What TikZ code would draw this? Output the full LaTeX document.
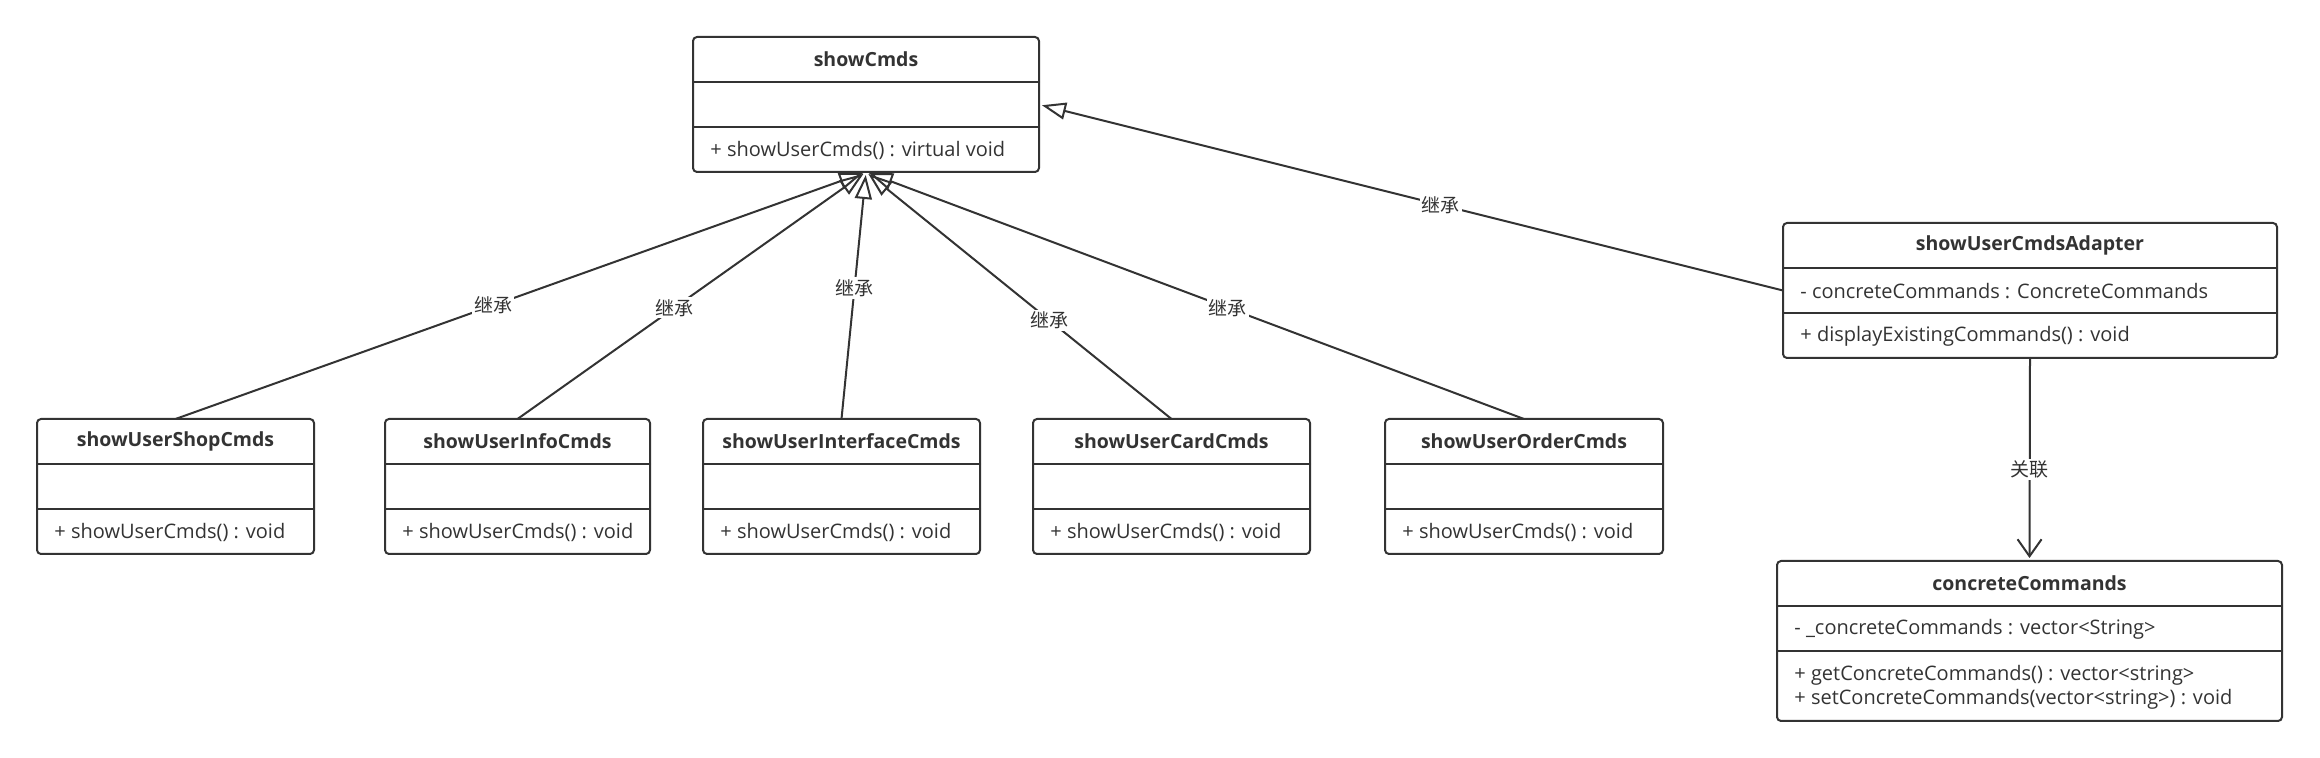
\documentclass[tikz,border=0pt]{standalone}
\usepackage{fontspec}
\setmainfont{Open Sans}
\newfontfamily\cjk{Noto Sans CJK SC}
\usetikzlibrary{calc,arrows.meta}

\definecolor{linec}{HTML}{333333}

\tikzset{
	classbox/.style={draw=linec, line width=1pt, rounded corners=2pt, inner sep=0pt, outer sep=0pt, anchor=north west},
	divider/.style={draw=linec, line width=1pt},
	clstitle/.style={font=\bfseries\fontsize{9.75}{11}\selectfont, text=linec, inner sep=0pt},
	clstext/.style={font=\fontsize{10}{12}\selectfont, text=linec, anchor=west, align=left, inner xsep=8.5pt, inner ysep=0pt},
	extends/.style={draw=linec, line width=1pt, -{Triangle[open, length=12pt, width=8.5pt, line width=1pt]}, shorten >=1.5pt},
	assoc/.style={draw=linec, line width=1pt, -{Straight Barb[length=8.5pt, width=12pt, line width=1pt]}, shorten >=1.5pt},
	lbl/.style={fill=white, inner sep=1pt, text=linec, font=\cjk\fontsize{9.5}{11}\selectfont}
}

% #1 method part height, #2 name, #3 north west corner, #4 width (px), #5 title, #6 attribute, #7 methods
\newcommand{\umlclass}[7][22.5pt]{%
	\node[classbox, minimum width=#4*0.5pt, minimum height=45pt+#1] (#2) at (#3) {};
	\node[clstitle] (#2-title) at ($(#2.north)+(0,-11.25pt)$) {#5};
	\draw[divider] ($(#2.north west)+(0,-22.5pt)$) -- ($(#2.north east)+(0,-22.5pt)$);
	\draw[divider] ($(#2.north west)+(0,-45pt)$) -- ($(#2.north east)+(0,-45pt)$);
	\coordinate (#2-aw) at ($(#2.north west)+(0,-33.75pt)$);
	\coordinate (#2-ae) at ($(#2.north east)+(0,-33.75pt)$);
	\if\relax\detokenize{#6}\relax\else
		\node[clstext] (#2-attr) at ($(#2-aw)+(0,-0.5pt)$) {#6};
	\fi
	\node[clstext] (#2-ops) at ($(#2.north west)+(0,-45.5pt-0.5*#1)$) {#7};
}

\begin{document}
\begin{tikzpicture}[x=0.5pt, y=-0.5pt, line cap=round]
	\useasboundingbox (0,0) rectangle (2320,758);

	% Classes
	\umlclass{showCmds}{693,37}{346}{showCmds}{}{+ showUserCmds() : virtual void}
	%
	\umlclass{shop}{37,419}{277}{showUserShopCmds}{}{+ showUserCmds() : void}
	\umlclass{info}{385,419}{265}{showUserInfoCmds}{}{+ showUserCmds() : void}
	\umlclass{iface}{703,419}{277}{showUserInterfaceCmds}{}{+ showUserCmds() : void}
	\umlclass{card}{1033,419}{277}{showUserCardCmds}{}{+ showUserCmds() : void}
	\umlclass{order}{1385,419}{278}{showUserOrderCmds}{}{+ showUserCmds() : void}
	%
	\umlclass{adapter}{1783,223}{494}{showUserCmdsAdapter}{- concreteCommands : ConcreteCommands}{+ displayExistingCommands() : void}
	\umlclass[35pt]{concrete}{1777,561}{505}{concreteCommands}{- \_concreteCommands : vector<String>}{+ getConcreteCommands() : vector<string>\\+ setConcreteCommands(vector<string>) : void}

	% Inheritance
	\draw[extends] (shop.north) -- node[lbl, pos=0.46] {继承} (showCmds.south);
	\draw[extends] (info.north) -- node[lbl, pos=0.45] {继承} (showCmds.south);
	\draw[extends] (iface.north) -- node[lbl, pos=0.53] {继承} (showCmds.south);
	\draw[extends] (card.north) -- node[lbl, pos=0.40] {继承} (showCmds.south);
	\draw[extends] (order.north) -- node[lbl, pos=0.45] {继承} (showCmds.south);
	\draw[extends] (adapter-aw) -- node[lbl, pos=0.46] {继承} (showCmds-ae);

	% Association
	\draw[assoc] (adapter.south) -- node[lbl, pos=0.55] {关联} (concrete.north);
\end{tikzpicture}
\end{document}
